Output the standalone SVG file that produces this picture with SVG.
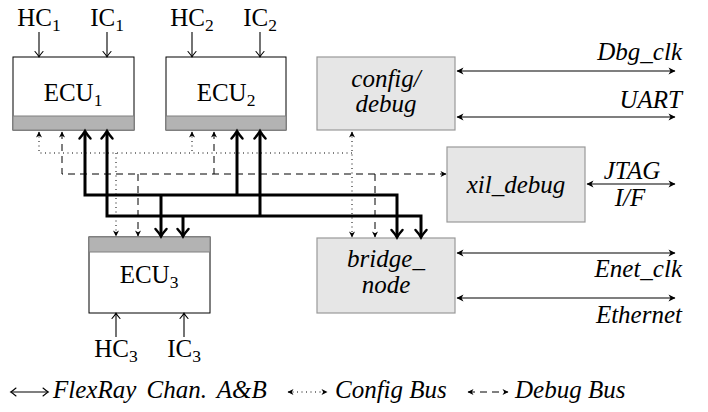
<svg xmlns="http://www.w3.org/2000/svg" width="708" height="412" viewBox="0 0 708 412">
<style>
text{font-family:'Liberation Serif','Times New Roman',serif;font-size:25px;fill:#000}
.i{font-style:italic}
.m{text-anchor:middle}
.e{text-anchor:end}
.box{fill:#fff;stroke:#000;stroke-width:1}
.band{fill:#b3b3b3;stroke:#808080;stroke-width:1}
.gbox{fill:#e6e6e6;stroke:#999;stroke-width:1.2}
.thick{fill:none;stroke:#000;stroke-width:3}
.thin{fill:none;stroke:#000;stroke-width:1.1}
.dot{fill:none;stroke:#000;stroke-width:1;stroke-dasharray:1 3.5}
.dash{fill:none;stroke:#000;stroke-width:1;stroke-dasharray:7 5}
</style>
<defs>
<marker id="to" markerUnits="userSpaceOnUse" refX="0" refY="0" markerWidth="12" markerHeight="12" orient="auto-start-reverse" overflow="visible"><path d="M-5,-4 Q-1.5,-1 0.3,0 Q-1.5,1 -5,4" fill="none" stroke="#000" stroke-width="1.1" stroke-linecap="round"/></marker>
<marker id="tk" markerUnits="userSpaceOnUse" refX="0" refY="0" markerWidth="14" markerHeight="14" orient="auto-start-reverse" overflow="visible"><path d="M-6.5,-5.5 Q-2,-1.5 0.8,0 Q-2,1.5 -6.5,5.5" fill="none" stroke="#000" stroke-width="2.5" stroke-linecap="round"/></marker>
<marker id="st" markerUnits="userSpaceOnUse" refX="0" refY="0" markerWidth="10" markerHeight="10" orient="auto-start-reverse" overflow="visible"><path d="M0.5,0 L-6.5,-3.5 L-4.5,0 L-6.5,3.5Z" fill="#000"/></marker>
<marker id="sm" markerUnits="userSpaceOnUse" refX="0" refY="0" markerWidth="10" markerHeight="10" orient="auto-start-reverse" overflow="visible"><path d="M0.5,0 L-5.5,-3 L-3.8,0 L-5.5,3Z" fill="#000"/></marker>
</defs>

<g id="ecu1">
<rect class="box" x="13" y="57" width="121" height="73"/>
<rect class="band" x="13" y="116" width="121" height="14"/>
<text class="m" x="73" y="101">ECU<tspan font-size="17.5" dy="5">1</tspan></text>
</g>
<g id="ecu2">
<rect class="box" x="166" y="57" width="120" height="73"/>
<rect class="band" x="166" y="116" width="120" height="14"/>
<text class="m" x="226" y="101">ECU<tspan font-size="17.5" dy="5">2</tspan></text>
</g>
<g id="ecu3">
<rect class="box" x="89" y="237" width="121" height="76"/>
<rect class="band" x="89" y="237" width="121" height="15"/>
<text class="m" x="149" y="283">ECU<tspan font-size="17.5" dy="5">3</tspan></text>
</g>
<g id="config_debug">
<rect class="gbox" x="317" y="57" width="138" height="73"/>
<text class="i m" x="386" y="87" font-size="24">config/</text>
<text class="i m" x="386" y="112" font-size="24">debug</text>
</g>
<g id="xil_debug">
<rect class="gbox" x="447" y="147" width="138" height="75"/>
<text class="i m" x="516" y="193">xil_debug</text>
</g>
<g id="bridge_node">
<rect class="gbox" x="317" y="238" width="138" height="75"/>
<text class="i m" x="386" y="267">bridge_</text>
<text class="i m" x="386" y="293">node</text>
</g>

<g id="labels">
<text class="m" x="39" y="26">HC<tspan font-size="17.5" dy="5">1</tspan></text>
<text class="m" x="107" y="26">IC<tspan font-size="17.5" dy="5">1</tspan></text>
<text class="m" x="192" y="26">HC<tspan font-size="17.5" dy="5">2</tspan></text>
<text class="m" x="260" y="26">IC<tspan font-size="17.5" dy="5">2</tspan></text>
<text class="m" x="116" y="357">HC<tspan font-size="17.5" dy="5">3</tspan></text>
<text class="m" x="184" y="357">IC<tspan font-size="17.5" dy="5">3</tspan></text>
<text class="i e" x="682" y="60">Dbg_clk</text>
<text class="i e" x="682" y="108">UART</text>
<text class="i m" x="632" y="179">JTAG</text>
<text class="i m" x="630" y="206">I/F</text>
<text class="i e" x="682" y="277">Enet_clk</text>
<text class="i e" x="682" y="323">Ethernet</text>
</g>

<g id="connectors">
<path class="thin" d="M39,32V56.5" marker-end="url(#to)"/>
<path class="thin" d="M107,32V56.5" marker-end="url(#to)"/>
<path class="thin" d="M192,32V56.5" marker-end="url(#to)"/>
<path class="thin" d="M260,32V56.5" marker-end="url(#to)"/>
<path class="thin" d="M116,337V313.5" marker-end="url(#to)"/>
<path class="thin" d="M184,337V313.5" marker-end="url(#to)"/>
<path class="thin" d="M457,71H675" marker-start="url(#st)" marker-end="url(#st)"/>
<path class="thin" d="M457,117H675" marker-start="url(#st)" marker-end="url(#st)"/>
<path class="thin" d="M587,184H675" marker-start="url(#st)" marker-end="url(#st)"/>
<path class="thin" d="M457,253H675" marker-start="url(#st)" marker-end="url(#st)"/>
<path class="thin" d="M457,298H675" marker-start="url(#st)" marker-end="url(#st)"/>
<path class="dot" d="M39,132V153H352" marker-start="url(#sm)"/>
<path class="dot" d="M192,132V153" marker-start="url(#sm)"/>
<path class="dot" d="M352,132V237" marker-start="url(#sm)" marker-end="url(#sm)"/>
<path class="dot" d="M116,153V236" marker-end="url(#sm)"/>
<path class="dash" d="M62,132V174H446" marker-start="url(#sm)" marker-end="url(#sm)"/>
<path class="dash" d="M214,132V174" marker-start="url(#sm)"/>
<path class="dash" d="M138,174V236" marker-end="url(#sm)"/>
<path class="dash" d="M375,174V237" marker-end="url(#sm)"/>
<path class="thick" d="M85,132V195H397V236.5" marker-start="url(#tk)" marker-end="url(#tk)"/>
<path class="thick" d="M237,195V132" marker-end="url(#tk)"/>
<path class="thick" d="M161,195V235.5" marker-end="url(#tk)"/>
<path class="thick" d="M107,132V216H421V236.5" marker-start="url(#tk)" marker-end="url(#tk)"/>
<path class="thick" d="M260,216V132" marker-end="url(#tk)"/>
<path class="thick" d="M183,216V235.5" marker-end="url(#tk)"/>
</g>

<g id="legend">
<path class="thin" d="M11,392H48" stroke-width="1.4" marker-start="url(#to)" marker-end="url(#to)"/>
<text class="i" x="53" y="398" word-spacing="4">FlexRay Chan. A&amp;B</text>
<path class="dot" d="M288,392H327" marker-start="url(#sm)" marker-end="url(#sm)"/>
<text class="i" x="335" y="398">Config Bus</text>
<path class="dash" d="M468,392H508" stroke-dasharray="3 4 5 30" marker-start="url(#sm)" marker-end="url(#sm)"/>
<text class="i" x="515" y="398">Debug Bus</text>
</g>
</svg>
